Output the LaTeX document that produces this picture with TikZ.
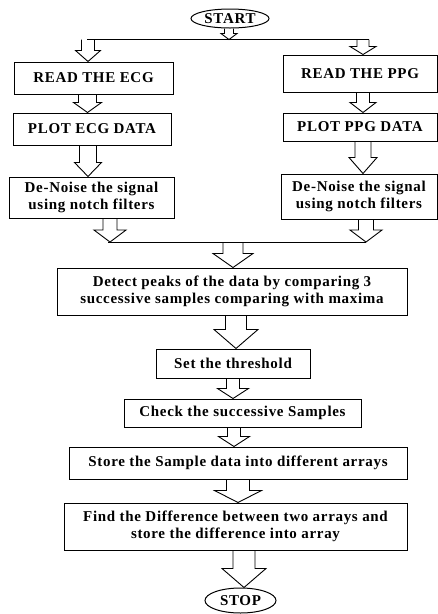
\documentclass[tikz,border=0pt]{standalone}
\usepackage{fontspec}
\setmainfont{Liberation Serif}
\newfontfamily\labelfont[LetterSpace=4.6]{Liberation Serif}
\usetikzlibrary{shapes.geometric,calc}

\tikzset{
  box/.style={draw=black, line width=1pt, fill=white, inner sep=0pt, align=center,
              font=\labelfont\bfseries\fontsize{15}{17}\selectfont},
  term/.style={draw=black, line width=1pt, ellipse, inner sep=0pt,
               font=\labelfont\bfseries\fontsize{15}{17}\selectfont},
  fat/.style={draw=black, line width=0.9pt, line join=miter},
  bus/.style={draw=black, line width=0.9pt}
}

% hollow block arrow: #1 axis x, #2 start point, #3 end point (tip),
% #4 shaft half width, #5 head half width, #6 head length
\newcommand{\fatarrow}[6]{%
  \draw[fat] let \p1=(#2), \p2=(#3) in
    (#1pt-#4pt,\y1) -- (#1pt-#4pt,\y2+#6pt) -- (#1pt-#5pt,\y2+#6pt) --
    (#1pt,\y2) -- (#1pt+#5pt,\y2+#6pt) -- (#1pt+#4pt,\y2+#6pt) -- (#1pt+#4pt,\y1);}

\begin{document}
\begin{tikzpicture}[x=1pt,y=-1pt]
\useasboundingbox[fill=white] (0,0) rectangle (438,614);

% terminals
\node[term, minimum width=78, minimum height=19] (start) at (230,18.5) {START};
\node[term, minimum width=71, minimum height=25] (stop) at (240.5,600.5) {STOP};

% ECG branch
\node[box, minimum width=159, minimum height=32] (rE) at (93.5,78) {READ THE ECG};
\node[box, minimum width=158, minimum height=32] (pE) at (92,129) {PLOT ECG DATA};
\node[box, minimum width=165, minimum height=41] (dE) at (91.5,197.5) {De-Noise the signal\\using notch filters};

% PPG branch
\node[box, minimum width=154, minimum height=37] (rP) at (360,73.5) {READ THE PPG};
\node[box, minimum width=154, minimum height=28] (pP) at (360,127) {PLOT PPG DATA};
\node[box, minimum width=156, minimum height=45] (dP) at (359,196.5) {De-Noise the signal\\using notch filters};

% common processing chain
\node[box, minimum width=350, minimum height=47] (det) at (232,291.5) {Detect peaks of the data by comparing 3\\successive samples comparing with maxima};
\node[box, minimum width=154, minimum height=29] (thr) at (233,363.5) {Set the threshold};
\node[box, minimum width=237, minimum height=28] (chk) at (242.5,413) {Check the successive Samples};
\node[box, minimum width=338, minimum height=32] (sto) at (238,463) {Store the Sample data into different arrays};
\node[box, minimum width=343, minimum height=47] (fin) at (235.5,526.5) {Find the Difference between two arrays and\\store the difference into array};

% split bus below START and merge bus above the peak detector
\coordinate (splitL) at (87,39.5);
\coordinate (splitR) at (369,39.5);
\coordinate (mergeL) at (108,242);
\coordinate (mergeR) at (366,242);
\draw[bus] (splitL) -- (splitR);
\draw[bus] (mergeL) -- (mergeR);

% arrows
\fatarrow{229}{start.south}{splitL}{4.5}{8}{6}
\fatarrow{88}{splitL}{rE.north}{6.5}{12.5}{11}
\fatarrow{363}{splitR}{rP.north}{6}{13}{8}
\fatarrow{87.5}{rE.south}{pE.north}{9}{14}{10}
\fatarrow{363}{rP.south}{pP.north}{6.5}{13}{10}
\fatarrow{88}{pE.south}{dE.north}{8.5}{13.5}{14}
\fatarrow{363}{pP.south}{dP.north}{8}{14}{16}
\fatarrow{110}{dE.south}{mergeL}{7}{16}{12}
\fatarrow{366}{dP.south}{mergeR}{7.5}{16}{12}
\fatarrow{233}{mergeL}{det.north}{10}{20}{14}
\fatarrow{236}{det.south}{thr.north}{10.5}{22}{19}
\fatarrow{233}{thr.south}{chk.north}{6.5}{15.5}{10}
\fatarrow{234}{chk.south}{sto.north}{6.5}{15.5}{10}
\fatarrow{238}{sto.south}{fin.north}{11.5}{23.5}{12}
\fatarrow{244}{fin.south}{stop.north}{11}{22}{19}
\end{tikzpicture}
\end{document}
